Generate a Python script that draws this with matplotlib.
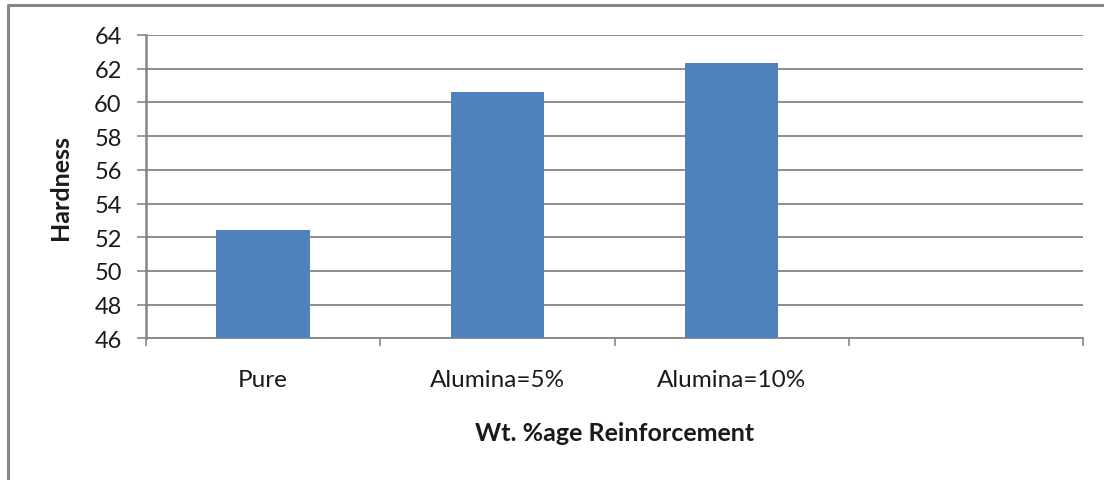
import matplotlib
matplotlib.use("Agg")
import matplotlib.pyplot as plt
from matplotlib.lines import Line2D

categories = ["Pure", "Alumina=5%", "Alumina=10%"]
hardness = [52.43, 60.63, 62.35]
y_ticks = [46, 48, 50, 52, 54, 56, 58, 60, 62, 64]
n_slots = 4  # the chart keeps one empty category slot on the right

plt.rcParams['font.family'] = ['Lato', 'DejaVu Sans']

grid_color = "#868686"
bar_color = "#4F81BD"
text_color = "#1a1a1a"

fig = plt.figure(figsize=(11.04, 4.81), dpi=100)
ax = fig.add_axes([146 / 1104, 1 - 339.3 / 481, (1083 - 146) / 1104, (339.3 - 36) / 481])

slots = list(range(len(categories)))
ax.bar(slots, [h - y_ticks[0] for h in hardness], bottom=y_ticks[0], width=0.4,
       color=bar_color, zorder=3)

ax.set_xlim(-0.5, n_slots - 0.5)
ax.set_ylim(y_ticks[0], y_ticks[-1])
ax.set_yticks(y_ticks)
ax.yaxis.grid(True, color=grid_color, linewidth=1.3, zorder=0)

# category labels sit in the middle of each slot, tick marks on slot edges
ax.set_xticks(slots)
ax.set_xticklabels(categories)
ax.set_xticks([i - 0.5 for i in range(n_slots + 1)], minor=True)
ax.tick_params(axis="x", which="major", length=0, pad=22, labelsize=17.5, labelcolor=text_color)
ax.tick_params(axis="x", which="minor", length=6, width=1.2, color=grid_color, direction="out")
ax.tick_params(axis="y", length=6.5, width=1.2, color=grid_color, pad=11, labelsize=17,
               labelcolor=text_color)

for side in ["top", "right"]:
    ax.spines[side].set_visible(False)
ax.spines["left"].set_color(grid_color)
ax.spines["left"].set_linewidth(1.8)
ax.spines["bottom"].set_color(grid_color)
ax.spines["bottom"].set_linewidth(1.3)

ax.set_ylabel("Hardness", fontsize=18, fontweight="bold", color=text_color)
ax.yaxis.set_label_coords((60 - 146) / 937, 0.5)
ax.yaxis.label.set_va("center")
ax.set_xlabel("Wt. %age Reinforcement", fontsize=18, fontweight="bold", color=text_color)
ax.xaxis.set_label_coords(0.5, -(434 - 339.3) / 303.3)
ax.xaxis.label.set_va("center")

# outer chart frame (only left and top edges are visible in the crop)
fig.add_artist(Line2D([8 / 1104, 8 / 1104, 1], [0, 1 - 6 / 481, 1 - 6 / 481],
                      transform=fig.transFigure, color=grid_color, linewidth=2.2))

fig.savefig("out.png", dpi=100)
